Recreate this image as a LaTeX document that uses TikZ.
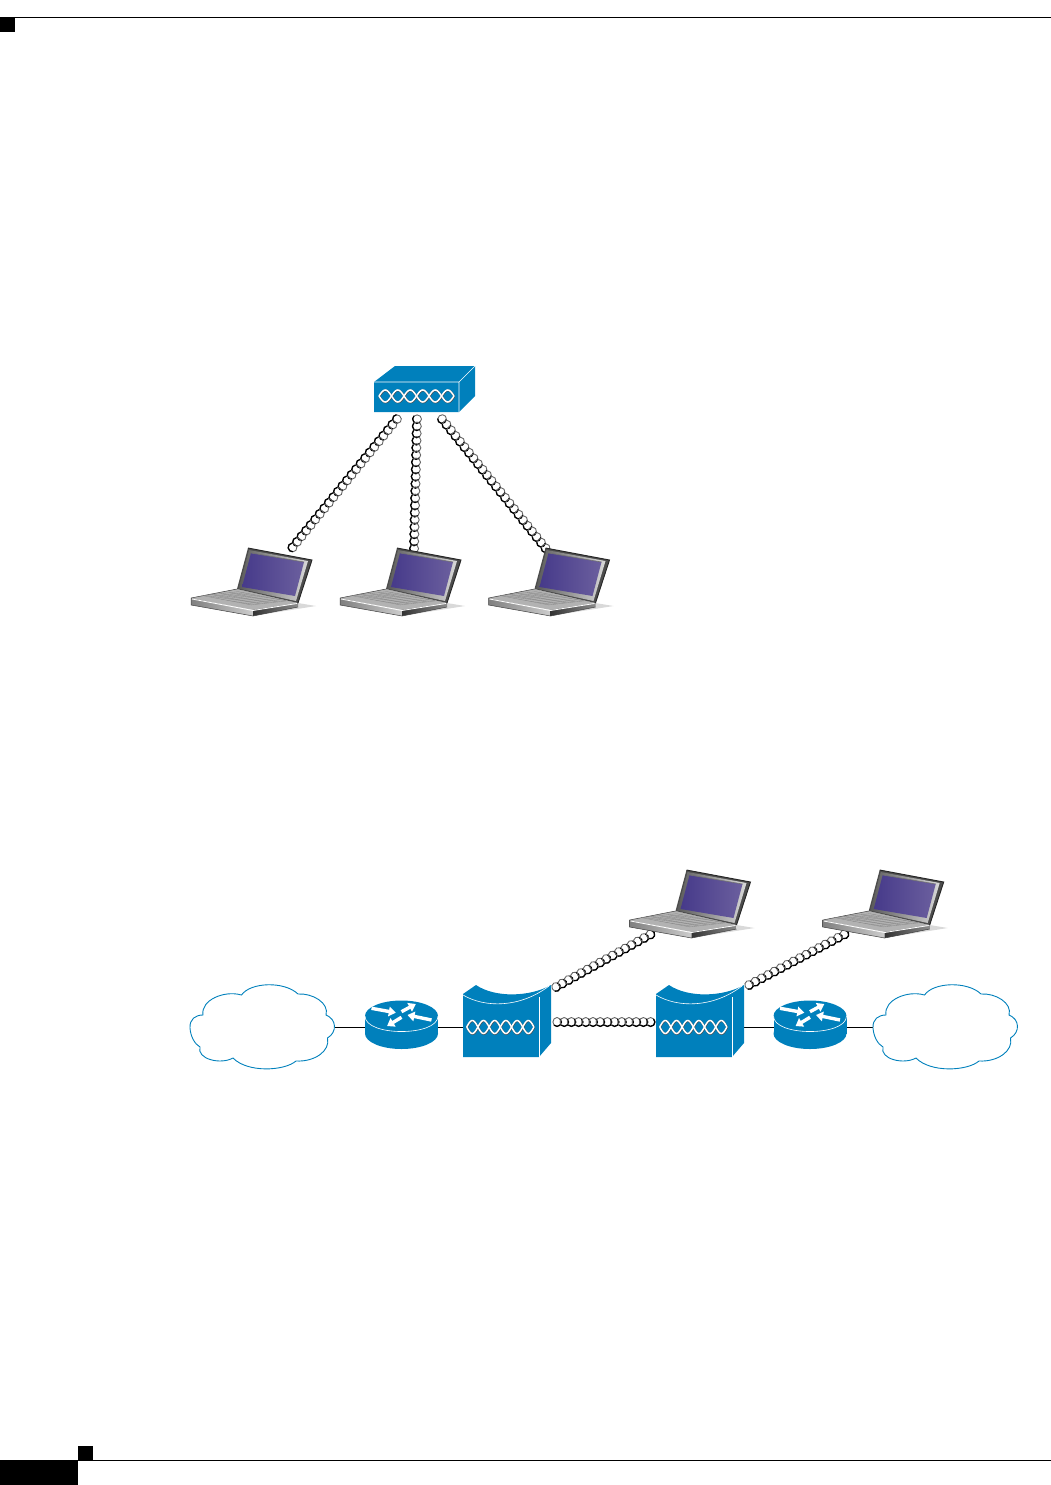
\documentclass[tikz,border=0pt]{standalone}
\usepackage{xcolor}
\usepackage{tikz}
\usetikzlibrary{arrows.meta, positioning, decorations.markings}

\definecolor{devblue}{HTML}{0080BC}
\definecolor{screenA}{HTML}{463A8A}
\definecolor{screenB}{HTML}{6B5F9E}

% white twist on the blue boxes: width, height of one side
\newcommand{\twistmark}[2]{
    \foreach \s in {1,-1} {
        \draw[black!70, line width=1.9pt, shift={(0.3,0.4)}] plot[domain=0:#1, samples=73] (\x,{\s*#2*sin(\x*(1080/#1))});
    }
    \foreach \s in {1,-1} {
        \draw[white, line width=1.5pt] plot[domain=0:#1, samples=73] (\x,{\s*#2*sin(\x*(1080/#1))});
    }
}

\tikzset{
    twisted/.style={
        postaction={decorate, decoration={markings,
            mark=between positions 0 and 1 step 7.2pt with {
                \draw[black!60, line width=0.9pt] (0pt,0pt) ellipse (4.1pt and 4.5pt);
                \draw[black, line width=1.3pt] (-3pt,-3.1pt) arc (225:405:4.3pt);
            }}}},
    wire/.style={draw=black, line width=0.8pt},
    devbox/.style={rectangle, inner sep=0pt, outer sep=0pt, minimum width=#1},
    lapbox/.style={devbox=125pt, minimum height=68pt},
    routerbox/.style={devbox=73pt, minimum height=48pt},
    switchbox/.style={devbox=88pt, minimum height=60pt},
    cloudbox/.style={devbox=145pt, minimum height=84pt},
    routerarrow/.style={draw=white, line width=3.4pt, -{Triangle[width=9.5pt,length=7pt]}},
    keyline/.style={draw=black!48, line width=0.3pt},
    pics/laptop/.style={code={
        \begin{scope}[shift={(-62.5,16)}]
        \fill[black!15] (107,5) -- (125,8) -- (62,18) -- cycle;
        % base
        \fill[black!30] (0,0) -- (46,-9) -- (107,5) -- (62,12) -- cycle;
        \shade[left color=black!50, right color=black!20] (0,0) -- (62,12) -- (62,18) -- (0,7) -- cycle;
        \shade[left color=black!80, right color=black!45] (62,12) -- (107,5) -- (107,9) -- (62,18) -- cycle;
        \draw[black!75, line width=0.5pt] (0,0) -- (46,-9) (0,0) -- (0,7) -- (62,18) -- (107,9);
        \draw[white, line width=0.8pt] (1,1) -- (62,12.5) -- (106,5.5);
        \foreach \i in {0,...,4} \draw[keyline] ({12.3+8.7*\i},{-2.3-\i}) -- ++(48,9.2);
        \foreach \i in {0,...,8} \draw[keyline] ({12.3+6*\i},{-2.3+1.15*\i}) -- ++(34.7,-4);
        % lid
        \fill[black!70] (57,-50) -- (121,-38) -- (107,5) -- (46,-9) -- cycle;
        \shade[left color=black!65, right color=black!15] (58,-48) -- (117,-37) -- (105,3) -- (47.5,-9.5) -- cycle;
        \draw[black!85, line width=0.9pt] (57,-50) -- (121,-38) -- (107,5);
        \shade[left color=screenA, right color=screenB] (60,-45) -- (113,-36) -- (104,-2) -- (51,-11) -- cycle;
        \draw[black!55, line width=0.6pt] (60,-45) -- (113,-36);
        \end{scope}
    }},
    pics/hub/.style={code={
        \fill[devblue] (-50.5,-7) -- (-29.5,-23) -- (50.5,-23) -- (50.5,7) -- (34.5,23) -- (-50.5,23) -- cycle;
        \draw[white, line width=0.6pt] (-50.5,-7) -- (34.5,-7) -- (50.5,-23) (34.5,-7) -- (34.5,23);
        \begin{scope}[shift={(-45.5,7)}] \twistmark{75}{6} \end{scope}
    }},
    pics/switch/.style={code={
        \fill[devblue] (-44,-33) -- (-31,-42) .. controls (-12,-29) and (23,-30) .. (44,-42)
            -- (44,16) -- (32,30) -- (-44,30) -- cycle;
        \draw[white, line width=0.6pt] (-44,-32) .. controls (-22,-19) and (13,-19) .. (42,-41);
        \draw[white, line width=0.6pt] (32,-30) -- (32,30);
        \begin{scope}[shift={(-40.3,0)}] \twistmark{67.2}{6.5} \end{scope}
    }},
    pics/router/.style={code={
        \fill[devblue] (0,6.5) ellipse (36.5pt and 15.5pt);
        \fill[devblue] (-36.5,-11) rectangle (36.5,6.5);
        \fill[devblue] (0,-11) ellipse (36.5pt and 15.5pt);
        \draw[white, line width=0.6pt] (-36.5,-11) .. controls (-36.5,9.7) and (36.5,9.7) .. (36.5,-11);
        \draw[routerarrow] (-30,-18.7) -- (-5.7,-14.3);
        \draw[routerarrow] (0,-15.3) -- (14.3,-23);
        \draw[routerarrow] (30,-7) -- (6,-12);
        \draw[routerarrow] (0,-9.7) -- (-14.4,-1);
    }},
    pics/wan/.style={code={
        \draw[devblue, line width=0.9pt, fill=white] (-72.5,1)
            .. controls (-73,-8) and (-67,-12) .. (-59.5,-12)
            .. controls (-62,-27) and (-38,-37) .. (-21,-32)
            .. controls (-12,-45) and (22,-46) .. (35.5,-33)
            .. controls (50,-34) and (67,-24) .. (63.5,-12)
            .. controls (74,-8) and (75,5) .. (65,11)
            .. controls (68,24) and (52,35) .. (33.5,34)
            .. controls (22,44) and (-15,46) .. (-29.5,31)
            .. controls (-42,38) and (-66,32) .. (-62.5,20)
            .. controls (-68,17) and (-72,9) .. (-72.5,1) -- cycle;
    }}
}

\begin{document}
\begin{tikzpicture}[x=1pt, y=-1pt]
\useasboundingbox (0,0) rectangle (1051,1485);

% page marks
\fill[black] (0,16.7) rectangle (1051,17.7);
\fill[black] (0,17) rectangle (15,32);
\fill[black] (78,1446) rectangle (93,1460);
\fill[black] (0,1460) rectangle (78,1485);
\fill[black] (78,1460) rectangle (1051,1461);

% upper group
\node[devbox=101pt, minimum height=46pt] (hub) at (424.5,389) {};
\node[lapbox] (lapA) at (253.5,582) {};
\node[lapbox, right=24pt of lapA] (lapB) {};
\node[lapbox, right=23.5pt of lapB] (lapC) {};

% lower group
\node[cloudbox] (wanA) at (262.5,1027) {};
\node[routerbox, right=30pt of wanA] (routerA) {};
\node[switchbox, right=25pt of routerA] (switchA) {};
\node[switchbox, right=105pt of switchA] (switchB) {};
\node[routerbox, right=29.5pt of switchB] (routerB) {};
\node[cloudbox, right=26.5pt of routerB] (wanB) {};
\node[lapbox] (lapD) at (692,904) {};
\node[lapbox, right=68.2pt of lapD] (lapE) {};

\coordinate (hubL) at (397,419);
\coordinate (hubM) at (417,419);
\coordinate (hubR) at (442,419);
\coordinate (lapAport) at (288,553);
\coordinate (lapBport) at (414,551);
\coordinate (lapCport) at (547,550);
\coordinate (switchAup) at (556,987);
\coordinate (switchBup) at (749,985);
\coordinate (lapDport) at (653,933);
\coordinate (lapEport) at (847,933);
\coordinate (switchAeast) at (557,1022);
\coordinate (switchBwest) at (655,1022);

\path[twisted] (hubL) -- (lapAport);
\path[twisted] (hubM) -- (lapBport);
\path[twisted] (hubR) -- (lapCport);
\path[twisted] (switchAup) -- (lapDport);
\path[twisted] (switchBup) -- (lapEport);
\path[twisted] (switchAeast) -- (switchBwest);

\draw[wire] (wanA) -- (routerA);
\draw[wire] (routerA) -- (switchA);
\draw[wire] (switchB) -- (routerB);
\draw[wire] (routerB) -- (wanB);

\pic at (hub) {hub};
\foreach \n in {lapA,lapB,lapC,lapD,lapE} \pic at (\n) {laptop};
\foreach \n in {routerA,routerB} \pic at (\n) {router};
\foreach \n in {switchA,switchB} \pic at (\n) {switch};
\foreach \n in {wanA,wanB} \pic at (\n) {wan};
\end{tikzpicture}
\end{document}
